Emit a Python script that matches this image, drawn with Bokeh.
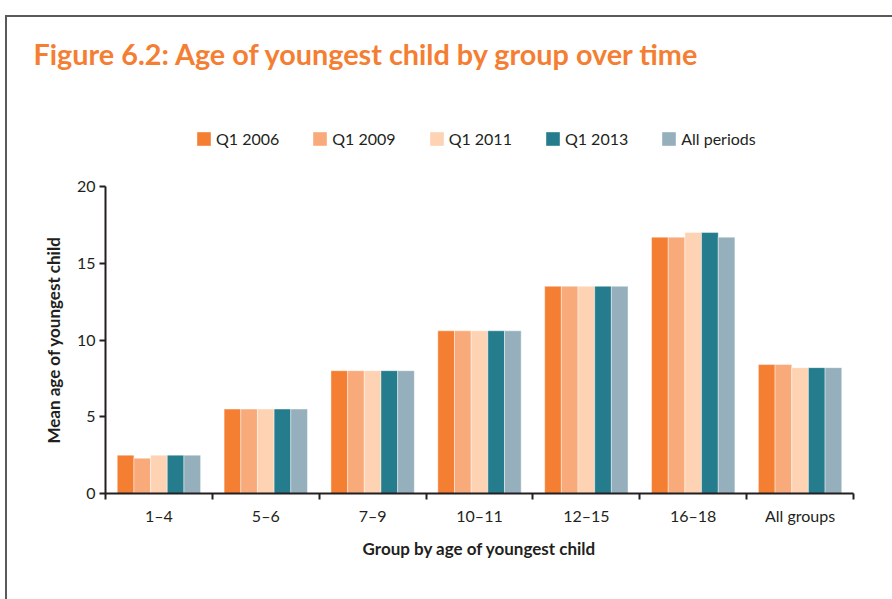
from bokeh.plotting import figure
from bokeh.layouts import column
from bokeh.models import Range1d, FixedTicker, Legend, LegendItem, Label
from bokeh.embed import file_html
from bokeh.resources import INLINE

# Mean age of youngest child, per group and survey period
groups = ["1–4", "5–6", "7–9", "10–11", "12–15", "16–18", "All groups"]
periods = ["Q1 2006", "Q1 2009", "Q1 2011", "Q1 2013", "All periods"]
q1_2006 = [2.5, 5.5, 8.0, 10.6, 13.5, 16.7, 8.4]
q1_2009 = [2.3, 5.5, 8.0, 10.6, 13.5, 16.7, 8.4]
q1_2011 = [2.5, 5.5, 8.0, 10.6, 13.5, 17.0, 8.2]
q1_2013 = [2.5, 5.5, 8.0, 10.6, 13.5, 17.0, 8.2]
all_periods = [2.5, 5.5, 8.0, 10.6, 13.5, 16.7, 8.2]
y_ticks = [0, 5, 10, 15, 20]

series = [q1_2006, q1_2009, q1_2011, q1_2013, all_periods]
colors = ["#F47F32", "#F9AA7A", "#FDD3B4", "#247C8C", "#95B0BC"]

INK = "#231F20"
ORANGE = "#F47E32"
FONT = "Lato"
WIDTH = 885
HEAD_H = 149

# ---- heading strip: title and legend -------------------------------------
head = figure(
    width=WIDTH, height=HEAD_H,
    x_range=Range1d(0, WIDTH), y_range=Range1d(0, HEAD_H),
    x_axis_type=None, y_axis_type=None,
    output_backend="svg", toolbar_location=None,
    min_border=0,
)
# let the heading use its full width instead of lining up with the chart frame
if "frame_align" in head.properties():
    head.frame_align = False
head.outline_line_color = None
head.xgrid.grid_line_color = None
head.ygrid.grid_line_color = None
head.background_fill_color = "white"
head.border_fill_color = "white"

head.add_layout(Label(
    x=26, y=HEAD_H - 36,
    text="Figure 6.2: Age of youngest child by group over time",
    text_font=FONT, text_font_size="28.8px", text_font_style="bold",
    text_color=ORANGE, text_baseline="alphabetic",
))

# legend swatches: flat, zero-height bars that only lend their colour
swatches = [head.vbar(x=[0], top=[0], width=0, fill_color=c, line_color=None)
            for c in colors]
legend = Legend(
    items=[LegendItem(label=lab, renderers=[r]) for lab, r in zip(periods, swatches)],
    orientation="horizontal",
    location=(188, 18),
    glyph_width=17, glyph_height=17,
    label_standoff=4, spacing=32,
    padding=0, margin=0,
    border_line_color=None, background_fill_alpha=0,
    label_text_font=FONT, label_text_font_size="16px",
    label_text_color=INK,
)
head.add_layout(legend)

# ---- main chart -----------------------------------------------------------
p = figure(
    width=WIDTH, height=433,
    x_range=Range1d(0, len(groups)), y_range=Range1d(0, 20),
    output_backend="svg", toolbar_location=None,
    min_border_left=98, min_border_right=39,
    min_border_top=20, min_border_bottom=106,
)
p.outline_line_color = None
p.xgrid.grid_line_color = None
p.ygrid.grid_line_color = None
p.background_fill_color = "white"
p.border_fill_color = "white"

# grouped bars: each period offset within its group slot
n = len(series)
bar_w = 0.156
for i, (vals, col) in enumerate(zip(series, colors)):
    xs = [g + 0.5 + (i - (n - 1) / 2) * bar_w for g in range(len(groups))]
    p.vbar(x=xs, top=vals, width=bar_w, fill_color=col,
           line_color="white", line_width=0.6, line_alpha=0.7)

# x axis: labels at group centres, tick marks at group boundaries
centres = [g + 0.5 for g in range(len(groups))]
xa = p.xaxis[0]
xa.ticker = FixedTicker(ticks=centres, minor_ticks=list(range(len(groups) + 1)))
xa.major_label_overrides = {c: g for c, g in zip(centres, groups)}
xa.major_tick_out = 0
xa.major_tick_in = 0
xa.minor_tick_out = 6
xa.minor_tick_in = 0
xa.minor_tick_line_color = INK
xa.minor_tick_line_width = 2
xa.major_label_standoff = 6
xa.axis_label = "Group by age of youngest child"
xa.axis_label_standoff = 10

ya = p.yaxis[0]
ya.ticker = FixedTicker(ticks=y_ticks)
ya.major_tick_out = 6
ya.major_tick_in = 0
ya.minor_tick_line_color = None
ya.major_tick_line_color = INK
ya.major_tick_line_width = 2
ya.major_label_standoff = 4
ya.axis_label = "Mean age of youngest child"
ya.axis_label_standoff = 10

for ax in (xa, ya):
    ax.axis_line_color = INK
    ax.axis_line_width = 2
    ax.major_label_text_font = FONT
    ax.major_label_text_font_size = "16px"
    ax.major_label_text_color = INK
    ax.axis_label_text_font = FONT
    ax.axis_label_text_font_size = "17px"
    ax.axis_label_text_font_style = "bold"
    ax.axis_label_text_color = INK

page = column(head, p, spacing=0, margin=(15, 0, 0, 5))
page.styles = {
    "border-top": "2px solid #5A5A5A",
    "border-left": "2px solid #5A5A5A",
}

open("out.html", "w").write(file_html(page, INLINE))
